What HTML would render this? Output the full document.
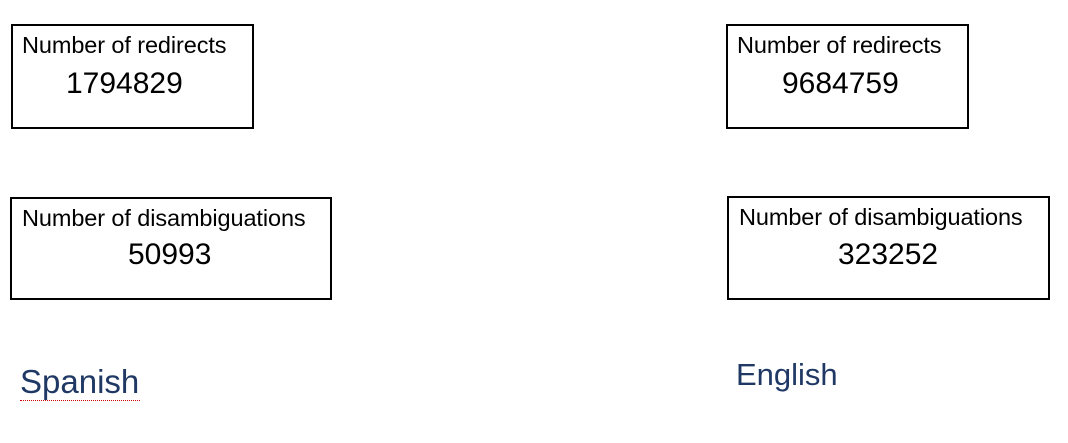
<!DOCTYPE html>
<html><head><style>
body{margin:0;width:1068px;height:443px;background:#fff;position:relative;font-family:"Liberation Sans",sans-serif;overflow:hidden}
.b{position:absolute;border:2px solid #000;box-sizing:border-box}
.t{position:absolute;font-size:23.5px;color:#000;white-space:nowrap;letter-spacing:-0.1px}
.n{position:absolute;font-size:30px;color:#000;white-space:nowrap}
.l{position:absolute;font-size:33px;color:#1f3864;white-space:nowrap}
</style></head><body>
<div class="b" style="left:11px;top:24px;width:243px;height:105px"></div>
<div class="t" style="left:22px;top:32px">Number of redirects</div>
<div class="n" style="left:66px;top:67px">1794829</div>

<div class="b" style="left:10px;top:197px;width:322px;height:103px"></div>
<div class="t" style="left:22px;top:205px">Number of disambiguations</div>
<div class="n" style="left:128px;top:238px">50993</div>

<div class="b" style="left:726px;top:24px;width:243px;height:105px"></div>
<div class="t" style="left:737px;top:32px">Number of redirects</div>
<div class="n" style="left:782px;top:67px">9684759</div>

<div class="b" style="left:727px;top:196px;width:323px;height:104px"></div>
<div class="t" style="left:739px;top:204px">Number of disambiguations</div>
<div class="n" style="left:838px;top:238px">323252</div>

<div class="l" style="left:20px;top:363px">Spanish</div>
<div style="position:absolute;left:20px;top:398px;width:120px;height:2px;border-bottom:1px dotted #c00"></div>
<div class="l" style="left:736px;top:357px;font-size:31px">English</div>
</body></html>
